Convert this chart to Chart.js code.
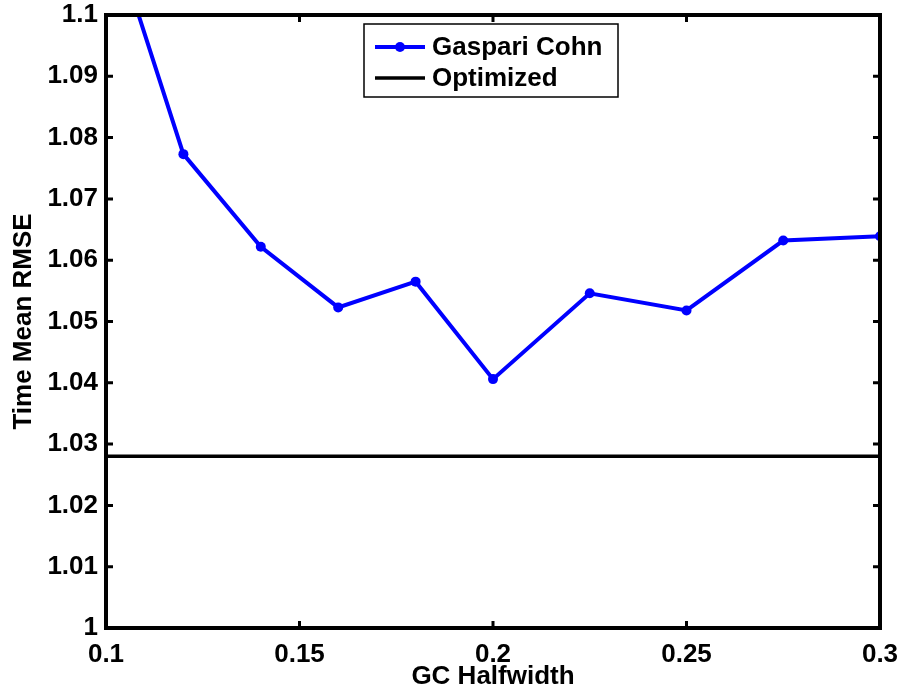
<!DOCTYPE html>
<html>
<head>
<meta charset="utf-8">
<script src="https://cdn.jsdelivr.net/npm/chart.js@4/dist/chart.umd.min.js"></script>
<style>
  html, body { margin: 0; padding: 0; background: #fff; }
  #wrap { width: 900px; height: 692px; }
</style>
</head>
<body>
<div id="wrap"><canvas id="chart" width="900" height="692"></canvas></div>
<script>
// values
const halfwidths = [0.1, 0.12, 0.14, 0.16, 0.18, 0.2, 0.225, 0.25, 0.275, 0.3];
const gcRmse = [1.1165, 1.0773, 1.0622, 1.0523, 1.0565, 1.0406, 1.0546, 1.0518, 1.0632, 1.0639];
const optimizedRmse = 1.028;
const xRange = [0.1, 0.3];
const yRange = [1, 1.1];

const FONT = { family: '"Liberation Sans", Arial, Helvetica, sans-serif', size: 26, weight: 'bold' };

function trimLabel(v) {
  return String(Number(Number(v).toFixed(3)));
}

// MATLAB style box with ticks pointing inward, plus the legend box
const boxPlugin = {
  id: 'matlabBox',
  afterDraw(chart) {
    const { ctx, chartArea: a, scales } = chart;
    const tick = 7;
    ctx.save();
    ctx.strokeStyle = '#000';
    ctx.lineWidth = 3;
    ctx.beginPath();
    scales.x.ticks.forEach(t => {
      const px = scales.x.getPixelForValue(t.value);
      ctx.moveTo(px, a.bottom); ctx.lineTo(px, a.bottom - tick);
      ctx.moveTo(px, a.top); ctx.lineTo(px, a.top + tick);
    });
    scales.y.ticks.forEach(t => {
      const py = scales.y.getPixelForValue(t.value);
      ctx.moveTo(a.left, py); ctx.lineTo(a.left + tick, py);
      ctx.moveTo(a.right, py); ctx.lineTo(a.right - tick, py);
    });
    ctx.stroke();
    ctx.lineWidth = 4;
    ctx.strokeRect(a.left, a.top, a.right - a.left, a.bottom - a.top);

    // legend
    const lx = 364, ly = 24, lw = 254, lh = 73;
    ctx.fillStyle = '#fff';
    ctx.fillRect(lx, ly, lw, lh);
    ctx.lineWidth = 1.5;
    ctx.strokeRect(lx, ly, lw, lh);
    ctx.font = `bold ${FONT.size}px ${FONT.family}`;
    ctx.textBaseline = 'middle';
    chart.data.datasets.forEach((ds, i) => {
      const cy = ly + 23 + i * 31;
      ctx.strokeStyle = ds.borderColor;
      ctx.lineWidth = ds.borderWidth;
      ctx.beginPath();
      ctx.moveTo(375, cy); ctx.lineTo(425, cy);
      ctx.stroke();
      if (ds.pointRadius > 0) {
        ctx.fillStyle = ds.borderColor;
        ctx.beginPath();
        ctx.arc(400, cy, ds.pointRadius, 0, Math.PI * 2);
        ctx.fill();
      }
      ctx.fillStyle = '#000';
      ctx.fillText(ds.label, 432, cy + 1);
    });
    ctx.restore();
  }
};

new Chart(document.getElementById('chart'), {
  type: 'line',
  data: {
    datasets: [
      {
        label: 'Gaspari Cohn',
        data: halfwidths.map((x, i) => ({ x, y: gcRmse[i] })),
        borderColor: '#0000ff',
        backgroundColor: '#0000ff',
        borderWidth: 4,
        pointRadius: 5,
        pointBorderWidth: 0,
        tension: 0
      },
      {
        label: 'Optimized',
        data: xRange.map(x => ({ x, y: optimizedRmse })),
        borderColor: '#000000',
        backgroundColor: '#000000',
        borderWidth: 3.5,
        pointRadius: 0,
        tension: 0
      }
    ]
  },
  options: {
    responsive: false,
    animation: false,
    layout: { padding: { top: 15, right: 20, left: 0, bottom: 0 } },
    plugins: { legend: { display: false }, tooltip: { enabled: false } },
    scales: {
      x: {
        type: 'linear',
        min: xRange[0],
        max: xRange[1],
        afterFit: scale => {
          scale.height = 64;
          scale.paddingLeft = 0;
          scale.paddingRight = 0;
        },
        grid: { display: false, drawTicks: false },
        border: { display: false },
        ticks: { stepSize: 0.05, color: '#000', font: FONT, padding: 11, maxRotation: 0, callback: trimLabel },
        title: { display: true, text: 'GC Halfwidth', color: '#000', font: FONT, padding: 0 }
      },
      y: {
        min: yRange[0],
        max: yRange[1],
        afterFit: scale => {
          scale.width = 106;
          scale.paddingTop = 0;
          scale.paddingBottom = 0;
        },
        grid: { display: false, drawTicks: false },
        border: { display: false },
        ticks: { stepSize: 0.01, color: '#000', font: FONT, padding: 8, callback: trimLabel },
        title: { display: true, text: 'Time Mean RMSE', color: '#000', font: FONT, padding: { top: 8, bottom: 0 } }
      }
    }
  },
  plugins: [boxPlugin]
});
</script>
</body>
</html>
